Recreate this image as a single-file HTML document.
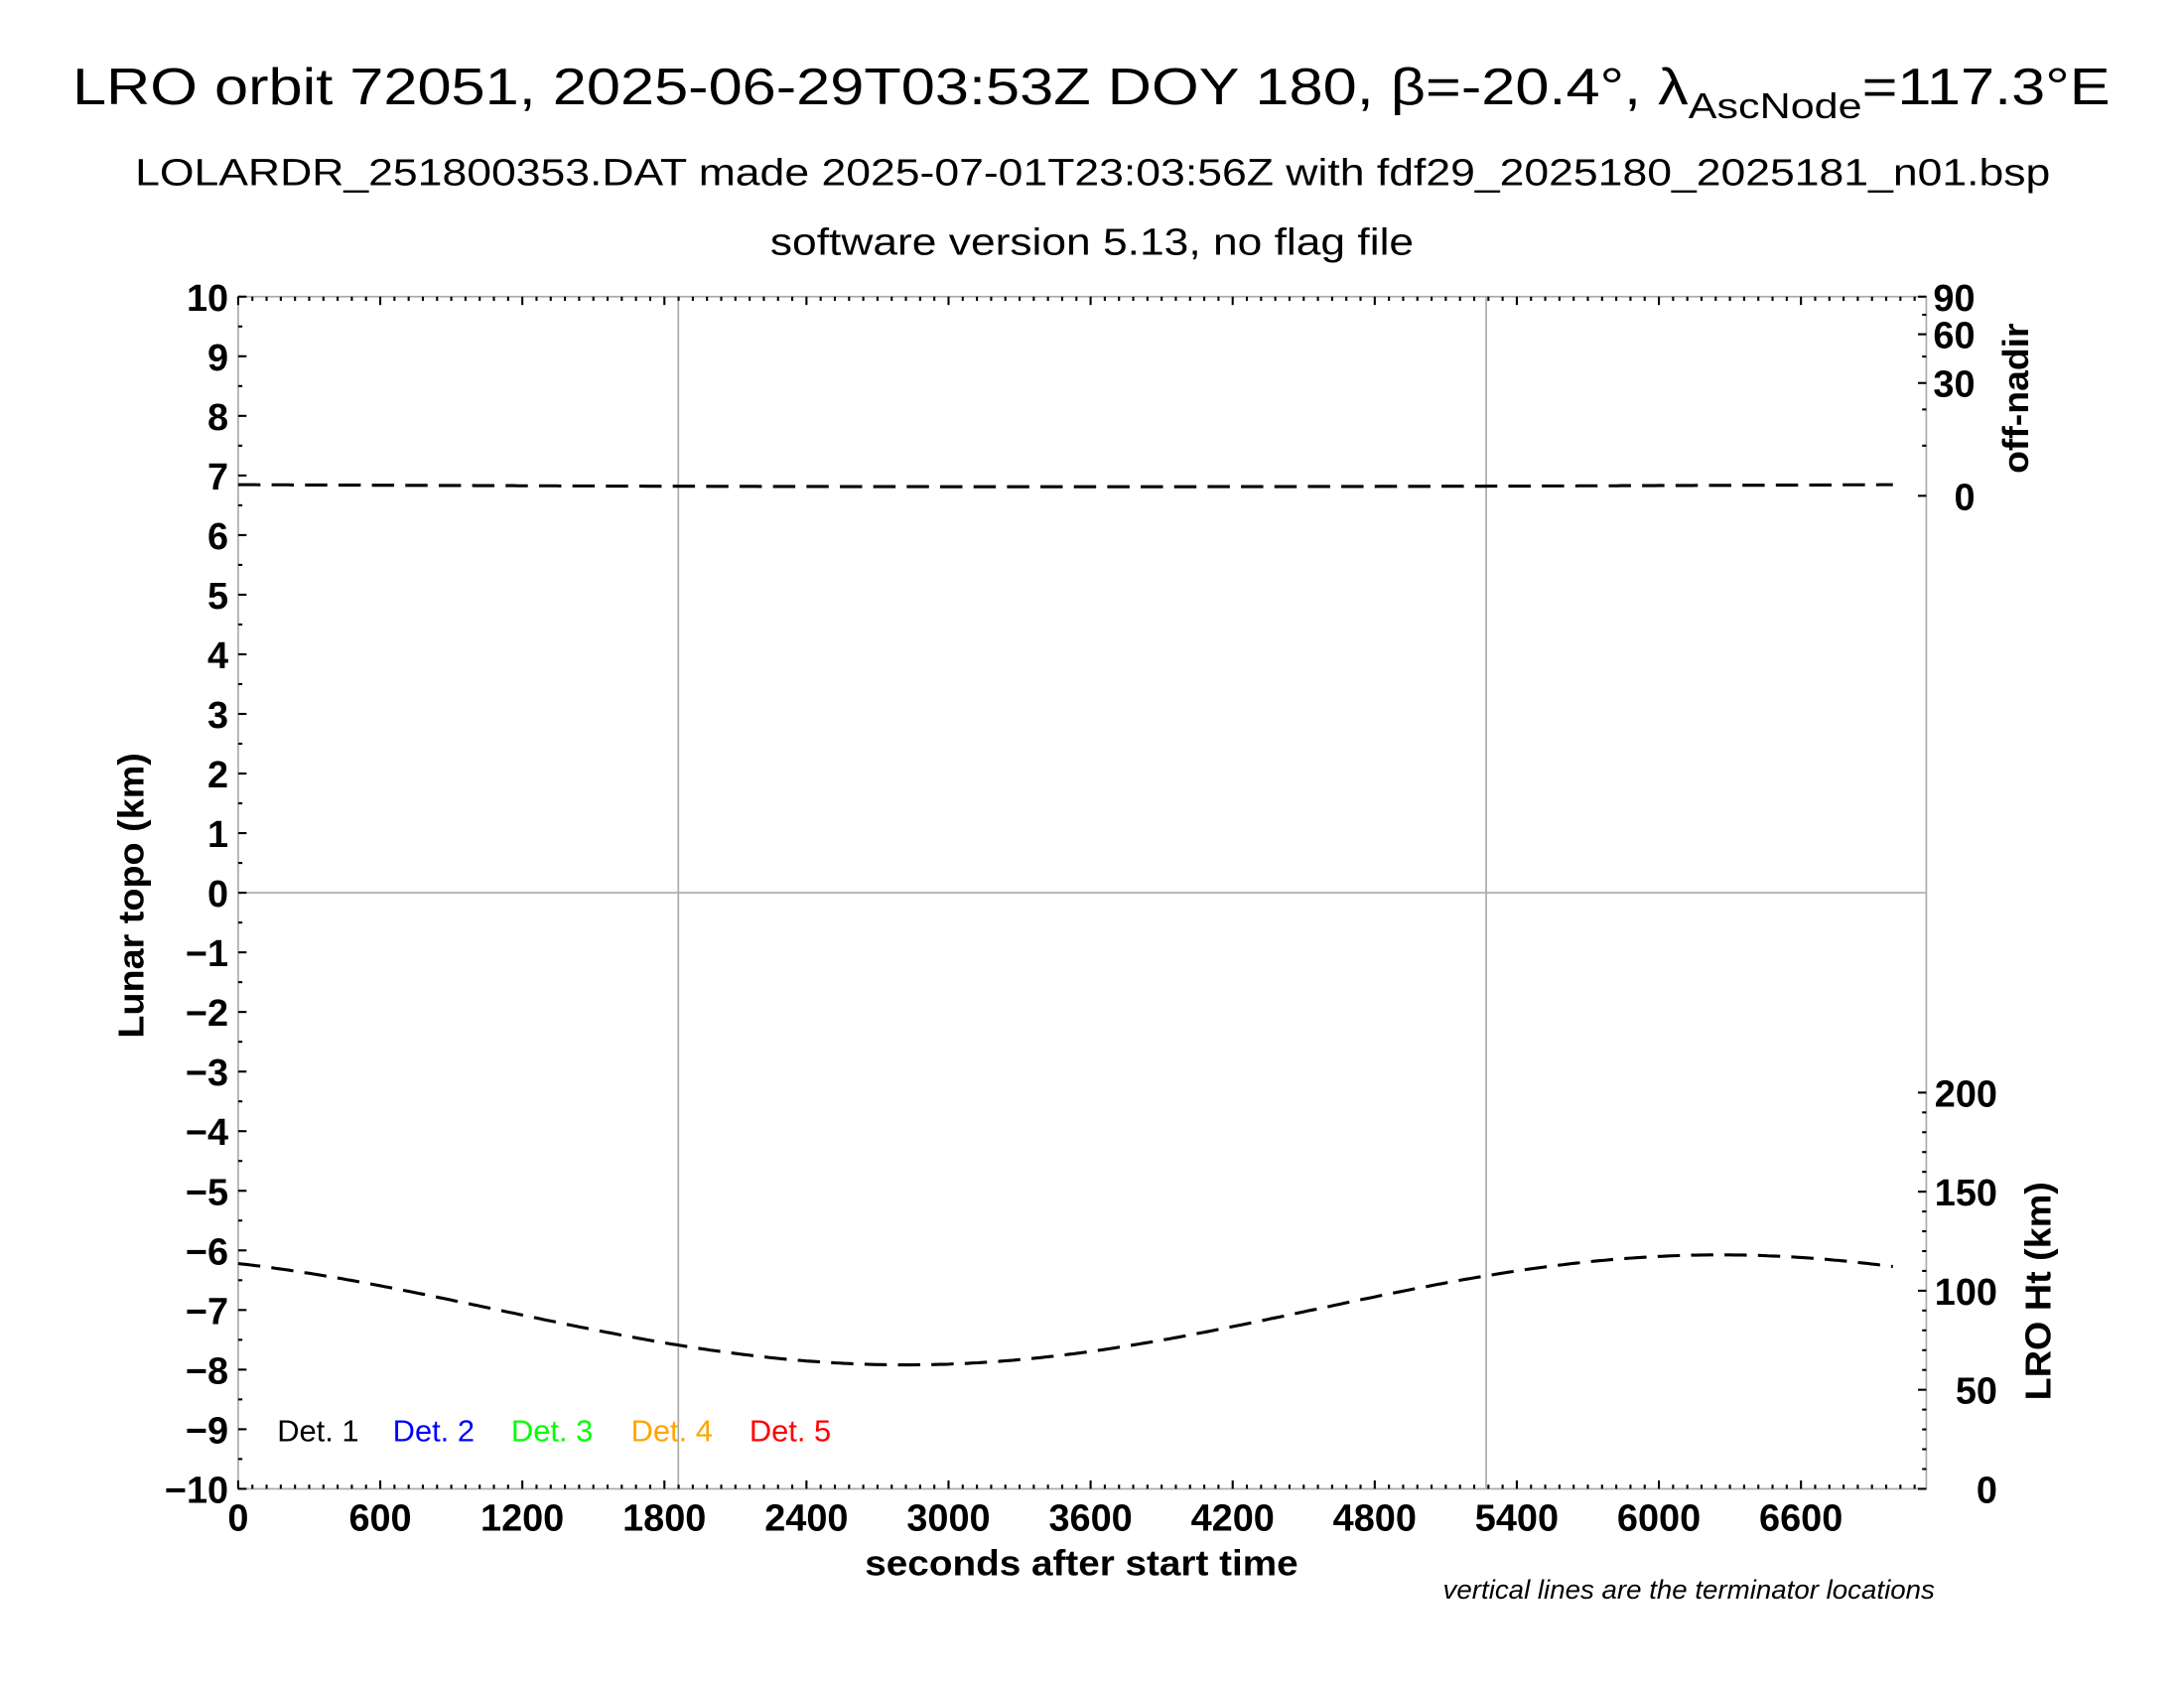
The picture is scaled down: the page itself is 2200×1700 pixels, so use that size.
<!DOCTYPE html>
<html><head><meta charset="utf-8"><style>html,body{margin:0;padding:0;background:#fff}svg{display:block}</style></head>
<body>
<svg id="s" width="2200" height="1700" viewBox="0 0 1568 1212" preserveAspectRatio="none" xmlns="http://www.w3.org/2000/svg" font-family="Liberation Sans, sans-serif">
<rect width="1568" height="1212" fill="#fff"/>
<text x="52" y="75" font-size="37" textLength="1463" lengthAdjust="spacingAndGlyphs">LRO orbit 72051, 2025-06-29T03:53Z DOY 180, β=-20.4°, λ<tspan font-size="26" dy="10">AscNode</tspan><tspan dy="-10">=117.3°E</tspan></text>
<text x="97" y="133" font-size="27" textLength="1375" lengthAdjust="spacingAndGlyphs">LOLARDR_251800353.DAT made 2025-07-01T23:03:56Z with fdf29_2025180_2025181_n01.bsp</text>
<text x="553" y="183" font-size="27" textLength="462" lengthAdjust="spacingAndGlyphs">software version 5.13, no flag file</text>
<g stroke="#aaa" stroke-width="1.2" fill="none">
<rect x="171" y="213" width="1212" height="856"/>
<line x1="171" y1="641" x2="1383" y2="641"/>
<line x1="487" y1="213" x2="487" y2="1069"/>
<line x1="1067" y1="213" x2="1067" y2="1069"/>
</g>
<g id="ticks" stroke="#000" stroke-width="1.5"></g>
<g id="labels" font-size="27" font-weight="bold"></g>
<path id="top" fill="none" stroke="#000" stroke-width="2.2" stroke-dasharray="16,8"/>
<path id="bot" fill="none" stroke="#000" stroke-width="2.2" stroke-dasharray="16,8"/>
<text x="0" y="0" font-size="26" font-weight="bold" transform="translate(103,643) rotate(-90)" text-anchor="middle" textLength="205" lengthAdjust="spacingAndGlyphs">Lunar topo (km)</text>
<text x="0" y="0" font-size="26" font-weight="bold" transform="translate(1456,286) rotate(-90)" text-anchor="middle" textLength="108" lengthAdjust="spacingAndGlyphs">off-nadir</text>
<text x="0" y="0" font-size="26" font-weight="bold" transform="translate(1472,927) rotate(-90)" text-anchor="middle" textLength="157" lengthAdjust="spacingAndGlyphs">LRO Ht (km)</text>
<text x="621" y="1131" font-size="26" font-weight="bold" textLength="311" lengthAdjust="spacingAndGlyphs">seconds after start time</text>
<text x="1036" y="1148" font-size="19" font-style="italic" textLength="353" lengthAdjust="spacingAndGlyphs">vertical lines are the terminator locations</text>
<g font-size="22">
<text x="199" y="1035" fill="#000">Det. 1</text>
<text x="282" y="1035" fill="#00f">Det. 2</text>
<text x="367" y="1035" fill="#0f0">Det. 3</text>
<text x="453" y="1035" fill="#ffa500">Det. 4</text>
<text x="538" y="1035" fill="#f00">Det. 5</text>
</g>
</svg>
<script>
var NS="http://www.w3.org/2000/svg",T=document.getElementById("ticks"),L=document.getElementById("labels");
function ln(a,b,c,d){var e=document.createElementNS(NS,"line");e.setAttribute("x1",a);e.setAttribute("y1",b);e.setAttribute("x2",c);e.setAttribute("y2",d);T.appendChild(e);}
function tx(x,y,s,anc){var e=document.createElementNS(NS,"text");e.setAttribute("x",x);e.setAttribute("y",y);e.setAttribute("text-anchor",anc);e.textContent=s;L.appendChild(e);}
for(var s=0;s<=7129;s+=60){var x=171+s*0.17,maj=s%600==0;ln(x,1069,x,1069-(maj?6:3));ln(x,213,x,213+(maj?6:3));if(maj)tx(x,1099,String(s),"middle");}
for(var k=-20;k<=20;k++){var y=641-k*21.4,maj=k%2==0;ln(171,y,171+(maj?6:3),y);if(maj){var v=k/2;tx(164,y+10,v<0?"\u2212"+(-v):String(v),"end");}}
[[213,"90"],[240,"60"],[275,"30"],[356,"0"]].forEach(function(p){ln(1383,p[0],1377,p[0]);tx(1418,p[0]+10,p[1],"end");});
[226,256,294,320].forEach(function(y){ln(1383,y,1380,y);});
for(var h=0;h<=200;h+=10){var y=1069-h*1.4225,maj=h%50==0;ln(1383,y,1383-(maj?6:3),y);if(maj)tx(1434,y+10,String(h),"end");}
var d="",d2="";
for(var x=171;x<=1360;x+=3){var y=940.5+39.5*Math.cos(2*Math.PI*(x-650)/1170);d+=(x==171?"M":"L")+x+","+y.toFixed(1);
var y2=348+1.5*Math.sin(Math.PI*(x-171)/1189);d2+=(x==171?"M":"L")+x+","+y2.toFixed(1);}
document.getElementById("bot").setAttribute("d",d);document.getElementById("top").setAttribute("d",d2);
</script>
</body></html>
